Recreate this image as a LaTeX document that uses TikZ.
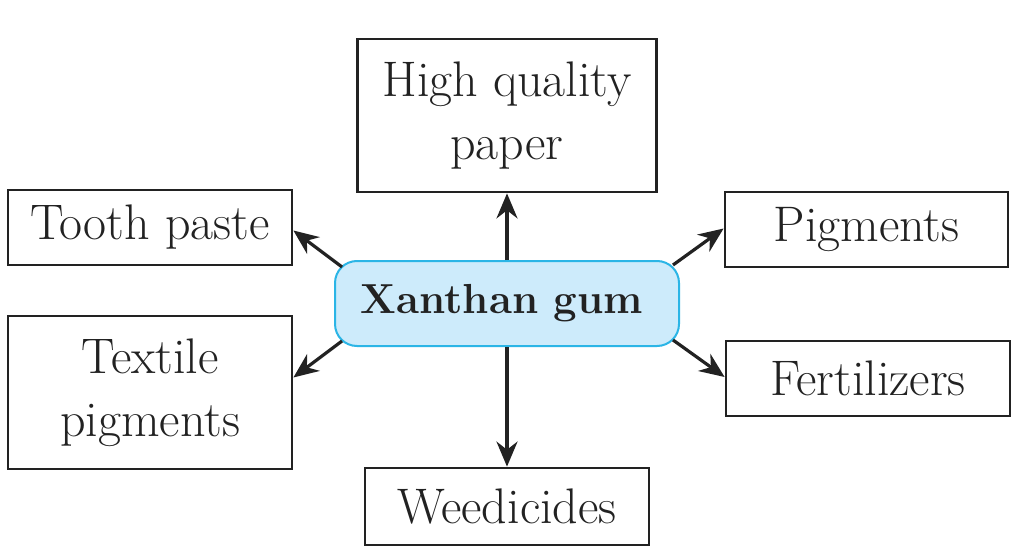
\documentclass[tikz,border=0pt]{standalone}
\usetikzlibrary{arrows.meta,calc}
\definecolor{hubfill}{HTML}{CDEBFB}
\definecolor{hubline}{HTML}{2BB5E6}
\definecolor{ink}{HTML}{222222}
\newcommand{\dn}[1]{\raisebox{-3pt}{#1}}
\begin{document}
\begin{tikzpicture}[x=1pt,y=-1pt,
  box/.style={draw=ink,line width=2.8pt,inner sep=0pt,align=center,text=ink,
    font=\fontsize{50}{63}\selectfont},
  hub/.style={draw=hubline,fill=hubfill,line width=2pt,rounded corners=22pt,
    minimum width=344pt,minimum height=85pt,inner sep=0pt,text=ink,
    font=\fontsize{42}{52}\selectfont\bfseries},
  arr/.style={draw=ink,line width=3.2pt,-{Stealth[length=25pt,width=21pt]}}]
\useasboundingbox (0,0) rectangle (1020,551);
\fill[white] (0,0) rectangle (1020,551);
\node[box,minimum width=299pt,minimum height=153pt] (paper) at (507,115.5) {\dn{High quality}\\\dn{paper}};
\node[box,minimum width=284pt,minimum height=75pt] (tooth) at (150,227.5) {\dn{Tooth paste}};
\node[box,minimum width=284pt,minimum height=153pt] (textile) at (150,392.5) {\dn{Textile}\\\dn{pigments}};
\node[box,minimum width=283pt,minimum height=75pt] (pigm) at (866.5,229.5) {\dn{Pigments}};
\node[box,minimum width=284pt,minimum height=75pt] (fert) at (868,378.5) {\dn{Fertilizers}};
\node[box,minimum width=284pt,minimum height=77pt] (weed) at (507,506.5) {\dn{Weedicides}};
\node[hub] (hub) at (507,303.5) {\hspace*{-10pt}Xanthan gum};
\coordinate (s1) at (342,267);
\coordinate (s2) at (342,341);
\coordinate (s3) at (673,265);
\coordinate (s4) at (673,340);
\coordinate (e1) at ($(tooth.east)+(0,3)$);
\coordinate (e2) at ($(textile.east)+(0,-15)$);
\coordinate (e3) at ($(pigm.west)+(0,-1)$);
\coordinate (e4) at ($(fert.west)+(0,-1.5)$);
\draw[arr] (hub.north) -- (paper.south);
\draw[arr] (hub.south) -- (weed.north);
\draw[arr] (s1) -- (e1);
\draw[arr] (s2) -- (e2);
\draw[arr] (s3) -- (e3);
\draw[arr] (s4) -- (e4);
\end{tikzpicture}
\end{document}
